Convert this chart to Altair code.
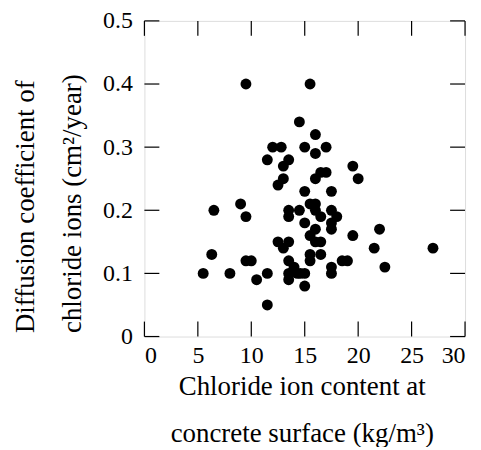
import altair as alt
import pandas as pd

# Chloride ion content at concrete surface (kg/m3)
x_vals = [9.5, 15.5, 14.5, 16.0, 12.0, 12.8, 15.0, 17.0, 16.0, 11.5,
          13.5, 13.0, 19.5, 13.0, 12.5, 16.0, 16.5, 17.0, 20.0, 15.0,
          17.5, 9.0, 6.5, 9.5, 13.5, 13.5, 14.5, 15.5, 16.0, 16.0,
          16.5, 17.5, 18.0, 17.5, 17.5, 15.0, 16.0, 15.5, 16.0, 16.5,
          19.5, 22.0, 12.5, 13.5, 13.0, 21.5, 27.0, 6.3, 15.5, 16.5,
          15.5, 9.5, 10.0, 13.5, 18.5, 19.0, 17.5, 17.5, 22.5, 5.5,
          8.0, 11.5, 10.5, 13.5, 13.5, 14.0, 14.3, 14.6, 15.0, 15.0,
          11.5]
# Diffusion coefficient of chloride ions (cm2/year)
y_vals = [0.40, 0.40, 0.34, 0.32, 0.30, 0.30, 0.30, 0.30, 0.29, 0.28,
          0.28, 0.27, 0.27, 0.25, 0.24, 0.25, 0.26, 0.26, 0.25, 0.23,
          0.23, 0.21, 0.20, 0.19, 0.20, 0.19, 0.20, 0.21, 0.21, 0.20,
          0.19, 0.20, 0.19, 0.18, 0.17, 0.18, 0.17, 0.16, 0.15, 0.15,
          0.16, 0.17, 0.15, 0.15, 0.14, 0.14, 0.14, 0.13, 0.13, 0.13,
          0.12, 0.12, 0.12, 0.12, 0.12, 0.12, 0.11, 0.10, 0.11, 0.10,
          0.10, 0.10, 0.09, 0.10, 0.09, 0.11, 0.10, 0.10, 0.10, 0.08,
          0.05]

x_ticks = [0, 5, 10, 15, 20, 25, 30]
y_ticks = [0, 0.1, 0.2, 0.3, 0.4, 0.5]
x_title = ["Chloride ion content at", "concrete surface (kg/m³)"]
y_title = ["Diffusion coefficient of", "chloride ions (cm²/year)"]

df = pd.DataFrame({"x": x_vals, "y": y_vals})
xt = pd.DataFrame({"x": x_ticks})
yt = pd.DataFrame({"y": y_ticks})

W, H = 322, 317
TICK = 15
FONT = "Liberation Serif"

xs = alt.Scale(domain=[0, 30], nice=False, zero=False)
ys = alt.Scale(domain=[0, 0.5], nice=False, zero=False)

x_axis = alt.Axis(
    values=x_ticks, ticks=False, domain=False, grid=False,
    labelFont=FONT, labelFontSize=24, labelPadding=7, labelColor="black",
    title=x_title, titleFont=FONT, titleFontSize=27, titleFontWeight="normal",
    titleColor="black", titleLineHeight=47, titleX=158, titleY=58,
    titleBaseline="alphabetic", titleAlign="center")
y_axis = alt.Axis(
    values=y_ticks, ticks=False, domain=False, grid=False,
    labelFont=FONT, labelFontSize=24, labelPadding=12, labelColor="black",
    labelExpr="datum.value == 0 ? '0' : format(datum.value, '.1f')",
    title=y_title, titleFont=FONT, titleFontSize=27, titleFontWeight="normal",
    titleColor="black", titleLineHeight=47, titleAngle=270, titleAlign="left",
    titleBaseline="alphabetic", titleX=-111, titleY=313)

points = alt.Chart(df).mark_circle(size=120, color="black", opacity=1).encode(
    x=alt.X("x:Q", scale=xs, axis=x_axis),
    y=alt.Y("y:Q", scale=ys, axis=y_axis),
)

# inward tick marks drawn as thin bar-shaped symbols (path in a [-1,1] box)
V_BAR = "M-0.08,-1L0.08,-1L0.08,1L-0.08,1Z"
H_BAR = "M-1,-0.08L1,-0.08L1,0.08L-1,0.08Z"
sym = dict(filled=True, color="black", opacity=1, size=TICK * TICK, strokeWidth=0)

bottom_ticks = alt.Chart(xt).mark_point(shape=V_BAR, **sym).encode(
    x=alt.X("x:Q", scale=xs, axis=x_axis), y=alt.value(H - TICK / 2))
top_ticks = alt.Chart(xt).mark_point(shape=V_BAR, **sym).encode(
    x=alt.X("x:Q", scale=xs, axis=x_axis), y=alt.value(TICK / 2))
left_ticks = alt.Chart(yt).mark_point(shape=H_BAR, **sym).encode(
    y=alt.Y("y:Q", scale=ys, axis=y_axis), x=alt.value(TICK / 2))
right_ticks = alt.Chart(yt).mark_point(shape=H_BAR, **sym).encode(
    y=alt.Y("y:Q", scale=ys, axis=y_axis), x=alt.value(W - TICK / 2))

chart = alt.layer(
    points, bottom_ticks, top_ticks, left_ticks, right_ticks
).properties(
    width=W, height=H,
    padding={"left": 137, "top": 12, "right": 8, "bottom": 110},
    autosize=alt.AutoSizeParams(type="none"),
).configure_view(
    stroke="black", strokeWidth=1.5
).configure(background="white")

chart.save("out.html", embed_options={"renderer": "svg", "actions": False})
